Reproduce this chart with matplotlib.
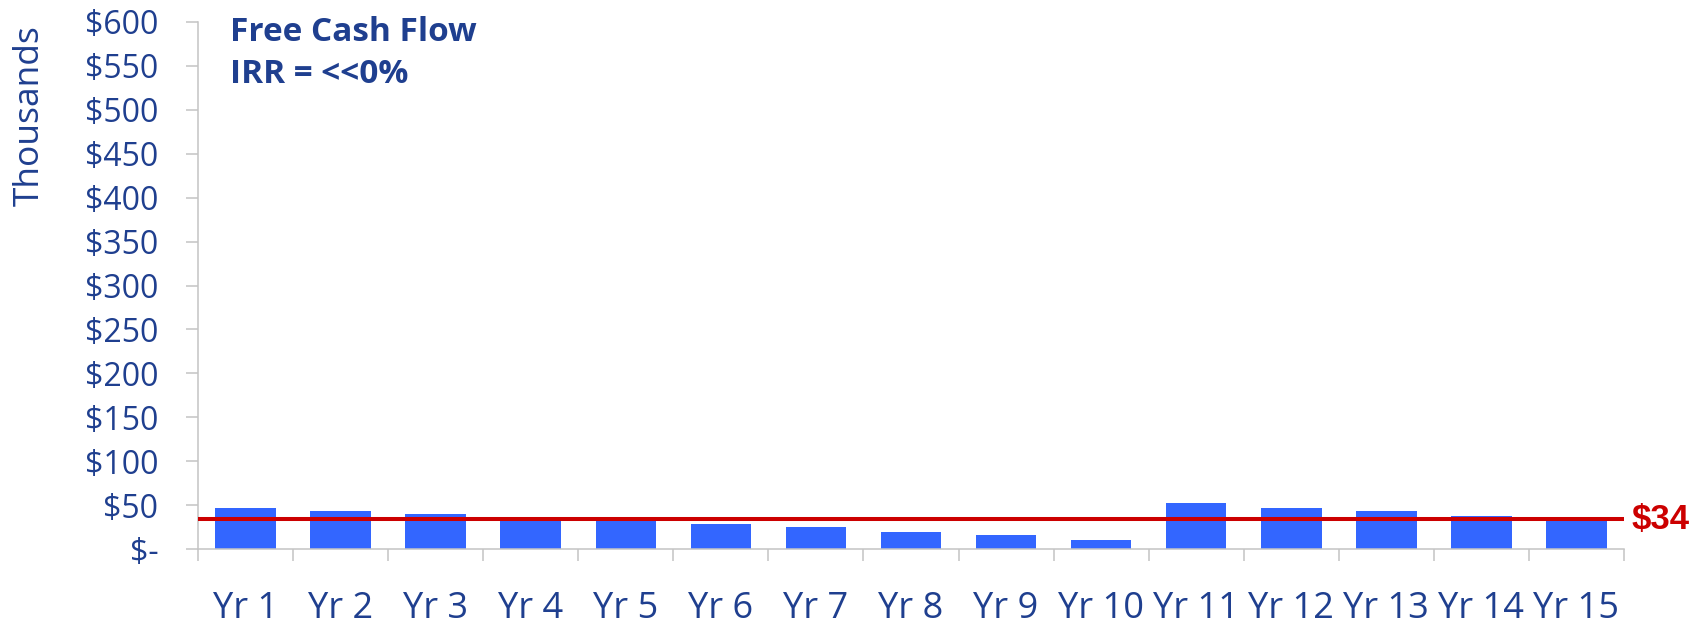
import numpy as np
import matplotlib
matplotlib.use("Agg")
import matplotlib.pyplot as plt
from matplotlib.ticker import FuncFormatter, FixedLocator

# free cash flow per year, in thousands of dollars
years = ["Yr 1", "Yr 2", "Yr 3", "Yr 4", "Yr 5", "Yr 6", "Yr 7", "Yr 8",
         "Yr 9", "Yr 10", "Yr 11", "Yr 12", "Yr 13", "Yr 14", "Yr 15"]
cashFlow = [47, 43.5, 40, 36, 32, 29, 25, 19.5, 16, 10.5, 52.5, 47, 43.5, 38, 32]
average = 34
yTicks = list(range(0, 601, 50))

NAVY = "#1F3F8F"
BAR = "#3366FF"
RED = "#CC0000"
GRID = "#C4C4C4"

plt.rcParams["font.family"] = ["Open Sans", "DejaVu Sans"]

fig = plt.figure(figsize=(17.04, 6.25), dpi=100)
ax = fig.add_axes([198 / 1704, 76 / 625, 1426 / 1704, 527 / 625])

x = np.arange(len(years))
ax.bar(x, cashFlow, width=0.637, color=BAR, zorder=2)
ax.axhline(average, color=RED, linewidth=2.9, zorder=3)
ax.annotate(f"${average}", xy=(1, average), xycoords=("axes fraction", "data"),
            xytext=(5.5, 0), textcoords="offset points", ha="left", va="center",
            color=RED, fontsize=25, fontweight="bold",
            family=["Liberation Sans", "DejaVu Sans"])

ax.set_xlim(-0.5, len(years) - 0.5)
ax.set_ylim(0, 600)

# tick marks on category boundaries, labels centred under the bars
ax.xaxis.set_major_locator(FixedLocator(np.arange(len(years) + 1) - 0.5))
ax.xaxis.set_minor_locator(FixedLocator(x))
ax.set_xticklabels([], minor=False)
ax.set_xticklabels(years, minor=True)
ax.tick_params(axis="x", which="major", length=8.6, width=1.1, color=GRID, direction="out")
ax.tick_params(axis="x", which="minor", length=0, pad=30, labelsize=26, labelcolor=NAVY)

ax.set_yticks(yTicks)
ax.yaxis.set_major_formatter(FuncFormatter(lambda v, _: "$-" if v == 0 else f"${v:.0f}"))
ax.tick_params(axis="y", length=8.6, width=1.1, color=GRID, direction="out",
               pad=20, labelsize=23, labelcolor=NAVY)

for side in ["top", "right"]:
    ax.spines[side].set_visible(False)
for side in ["left", "bottom"]:
    ax.spines[side].set_color(GRID)
    ax.spines[side].set_linewidth(1.1)

fig.text(30 / 1704, 1 - 116 / 625, "Thousands", rotation=90, ha="center", va="center",
         fontsize=25.5, color=NAVY)
fig.text(230 / 1704, 1 - 41 / 625, "Free Cash Flow", ha="left", va="baseline",
         fontsize=24, fontweight="bold", color=NAVY)
fig.text(230 / 1704, 1 - 83 / 625, "IRR = <<0%", ha="left", va="baseline",
         fontsize=24, fontweight="bold", color=NAVY)

fig.savefig("out.png", dpi=100)
